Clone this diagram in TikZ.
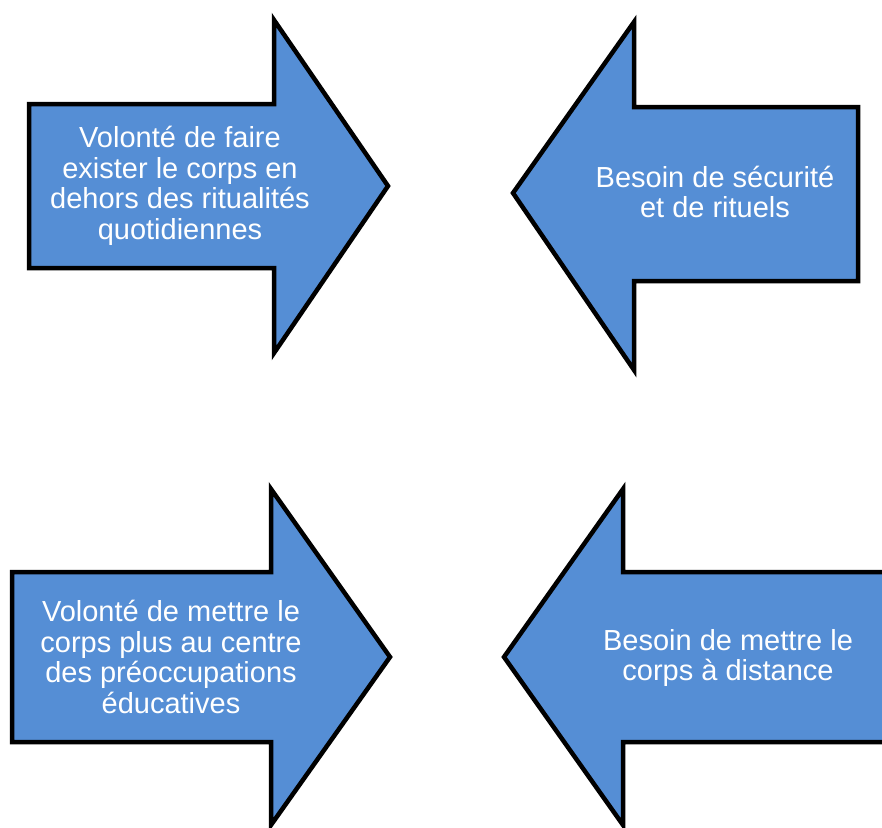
\documentclass[tikz,border=0pt]{standalone}
\usepackage{fontspec}
\setmainfont{Liberation Sans}
\usepackage{tikz}
\definecolor{bleu}{RGB}{85,142,213}

\begin{document}
\begin{tikzpicture}[x=1pt,y=-1pt,
  fleche/.style={fill=bleu,draw=black,line width=4.5pt,miter limit=20},
  texte/.style={text=white,align=center,font=\fontsize{29}{30.5}\selectfont}]
  \useasboundingbox (0,0) rectangle (882,827);
  \clip (0,0) rectangle (882,827);

  % les quatre flèches
  \foreach \e/\t/\b/\h/\ht/\hb/\x/\y in {29/104/268/274/20/353/388/186,
        858/107/281/634/22/370/513/193,
        12/572/742/271/489/825/390/657,
        900/572/742/623/489/825/504/657}{
    \draw[fleche] (\e,\t) -- (\h,\t) -- (\h,\ht) -- (\x,\y) -- (\h,\hb)
      -- (\h,\b) -- (\e,\b) -- cycle;
  }

  % textes
  \node[texte] (faire) at (180,186) {Volonté de faire\\exister le corps en\\dehors des ritualités\\quotidiennes};
  \node[texte] (securite) at (715,192) {Besoin de sécurité\\et de rituels};
  \node[texte] (centre) at (171,657) {Volonté de mettre le\\corps plus au centre\\des préoccupations\\éducatives};
  \node[texte] (distance) at (728,658) {Besoin de mettre le\\corps à distance};
\end{tikzpicture}
\end{document}
